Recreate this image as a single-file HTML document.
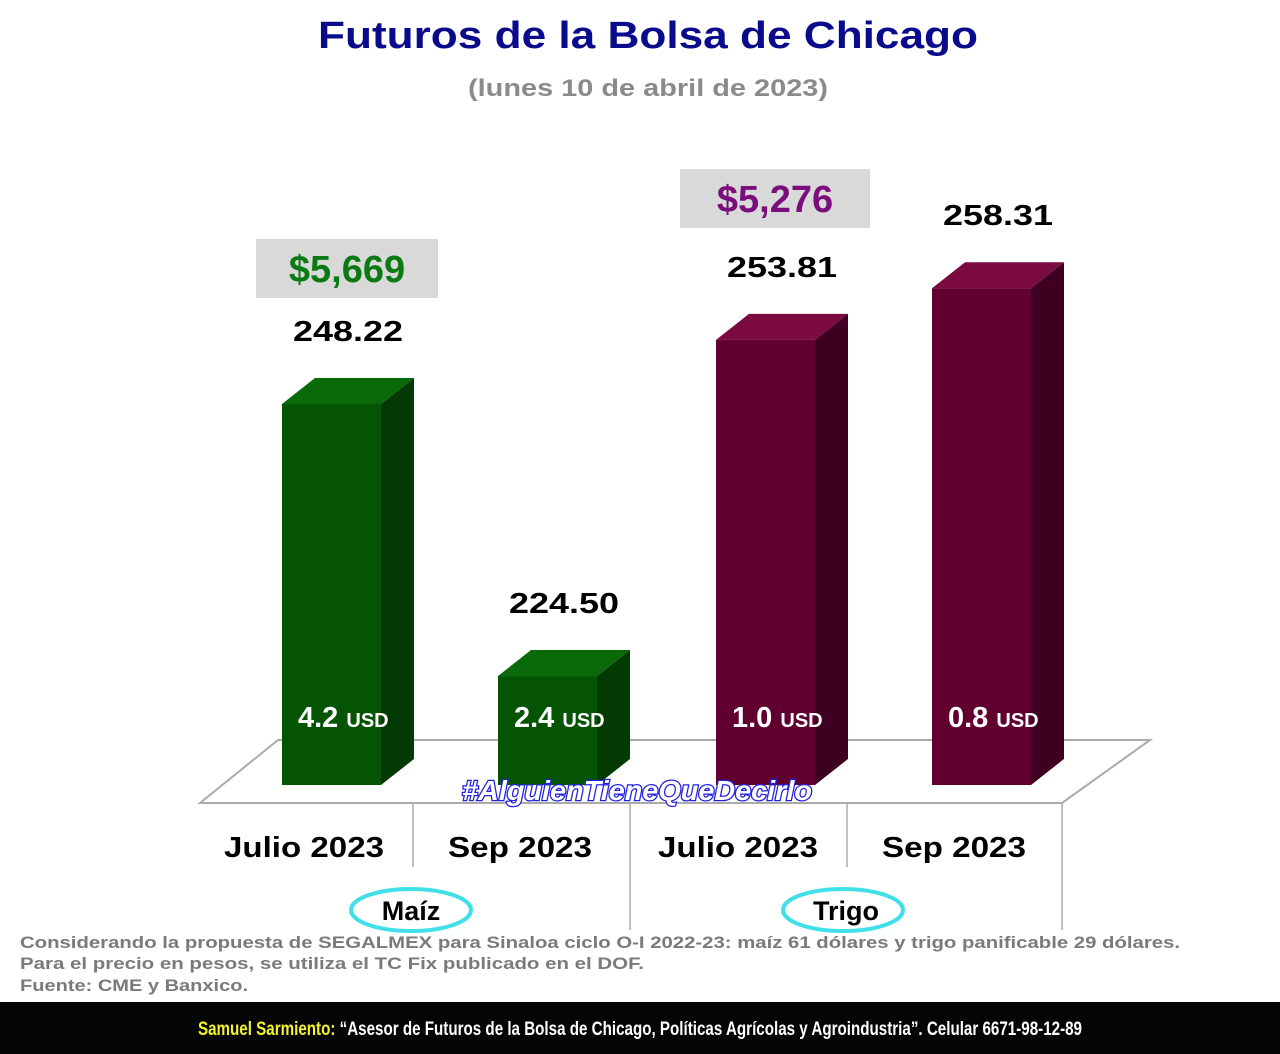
<!DOCTYPE html>
<html><head><meta charset="utf-8"><style>
body{margin:0;background:#fff;}
svg{display:block;font-family:"Liberation Sans",sans-serif;}
</style></head><body>
<svg id="c" width="1280" height="1054" viewBox="0 0 1280 1054">
<text x="648" y="48" text-anchor="middle" font-size="38" font-weight="bold" fill="#0a0a8c" textLength="660" lengthAdjust="spacingAndGlyphs">Futuros de la Bolsa de Chicago</text>
<text x="648" y="96" text-anchor="middle" font-size="24" font-weight="bold" fill="#8a8a8a" textLength="360" lengthAdjust="spacingAndGlyphs">(lunes 10 de abril de 2023)</text>
<polygon points="200,803 1062,803 1150,740 278,740" fill="#fff" stroke="#aaa" stroke-width="2"/>
<g stroke="#aaa" stroke-width="1.5">
<line x1="413" y1="803" x2="413" y2="867"/><line x1="630" y1="803" x2="630" y2="930"/>
<line x1="847" y1="803" x2="847" y2="867"/><line x1="1062" y1="803" x2="1062" y2="930"/>
</g>
<g id="bars"></g>
<rect x="256" y="239" width="182" height="59" fill="#d9d9d9"/>
<text x="347" y="282" text-anchor="middle" font-size="38" font-weight="bold" fill="#0b7a12">$5,669</text>
<rect x="680" y="169" width="190" height="59" fill="#d9d9d9"/>
<text x="775" y="212" text-anchor="middle" font-size="38" font-weight="bold" fill="#7a0e7a">$5,276</text>
<text x="637" y="800" text-anchor="middle" font-size="28" font-weight="bold" font-style="italic" fill="#fff" stroke="#2222dd" stroke-width="2.5" paint-order="stroke" textLength="350" lengthAdjust="spacingAndGlyphs">#AlguienTieneQueDecirlo</text>
<ellipse cx="411" cy="910" rx="60" ry="21" fill="none" stroke="#3fe0ea" stroke-width="4"/>
<text x="411" y="920" text-anchor="middle" font-size="27" font-weight="bold">Maíz</text>
<ellipse cx="843" cy="910" rx="60" ry="21" fill="none" stroke="#3fe0ea" stroke-width="4"/>
<text x="846" y="920" text-anchor="middle" font-size="27" font-weight="bold">Trigo</text>
<g font-size="17" font-weight="bold" fill="#7a7a7a">
<text x="20" y="948" textLength="1160" lengthAdjust="spacingAndGlyphs">Considerando la propuesta de SEGALMEX para Sinaloa ciclo O-I 2022-23: maíz 61 dólares y trigo panificable 29 dólares.</text>
<text x="20" y="969" textLength="624" lengthAdjust="spacingAndGlyphs">Para el precio en pesos, se utiliza el TC Fix publicado en el DOF.</text>
<text x="20" y="991" textLength="228" lengthAdjust="spacingAndGlyphs">Fuente: CME y Banxico.</text>
</g>
<rect x="0" y="1002" width="1280" height="52" fill="#050505"/>
<text x="640" y="1035" text-anchor="middle" font-size="19" font-weight="bold" fill="#fff" textLength="884" lengthAdjust="spacingAndGlyphs"><tspan fill="#f2f230">Samuel Sarmiento:</tspan> “Asesor de Futuros de la Bolsa de Chicago, Políticas Agrícolas y Agroindustria”. Celular 6671-98-12-89</text>
</svg>
<script>
const categories=["Julio 2023","Sep 2023","Julio 2023","Sep 2023"];
const values=[248.22,224.50,253.81,258.31];
const valueLabels=["248.22","224.50","253.81","258.31"];
const usdLabels=["4.2","2.4","1.0","0.8"];
const crops=["maiz","maiz","trigo","trigo"];
const NS="http://www.w3.org/2000/svg";
const base=785, vmin=215, k=11.47, dx=33, dy=26, w=99;
const xs=[282,498,716,932];
const colors={maiz:["#045404","#033a03","#0a6a0a"],trigo:["#610030","#3e0020","#7a0a40"]};
function y(v){return base-(v-vmin)*k;}
const g=document.getElementById('bars');
function mk(t,a){const e=document.createElementNS(NS,t);for(const q in a)e.setAttribute(q,a[q]);return e;}
values.forEach((v,i)=>{
 const x=xs[i],t=y(v),c=colors[crops[i]];
 const side=mk('polygon',{points:`${x+w},${t} ${x+w+dx},${t-dy} ${x+w+dx},${base-dy} ${x+w},${base}`,fill:c[1]});
 
 
 g.appendChild(side);
 const top=mk('polygon',{points:`${x},${t} ${x+dx},${t-dy} ${x+w+dx},${t-dy} ${x+w},${t}`,fill:c[2]});
 
 
 g.appendChild(top);
 const f=mk('rect',{x:x,y:t,width:w,height:base-t,fill:c[0]});
 
 
 g.appendChild(f);
 const vl=mk('text',{x:x+66,y:t-63,'text-anchor':'middle','font-size':29,'font-weight':'bold',textLength:110,lengthAdjust:'spacingAndGlyphs'});
 vl.textContent=valueLabels[i];
 
 
 g.appendChild(vl);
 const ul=mk('text',{x:x+16,y:727,'font-size':29,'font-weight':'bold',fill:'#fff'});
 ul.innerHTML=usdLabels[i]+' <tspan font-size="20">USD</tspan>';
 
 
 g.appendChild(ul);
 const cl=mk('text',{x:[304,520,738,954][i],y:857,'text-anchor':'middle','font-size':29,'font-weight':'bold',textLength:[160,144,160,144][i],lengthAdjust:'spacingAndGlyphs'});
 cl.textContent=categories[i];
 
 
 g.appendChild(cl);
});
</script>
</body></html>
